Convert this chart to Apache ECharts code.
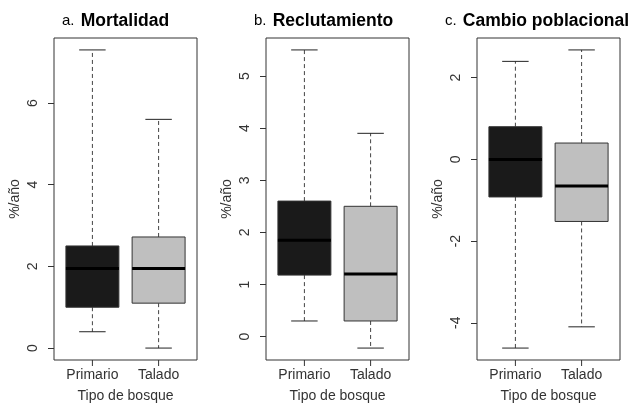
<!DOCTYPE html>
<html>
<head>
<meta charset="utf-8">
<script src="https://cdn.jsdelivr.net/npm/echarts@6/dist/echarts.min.js"></script>
<style>
html,body{margin:0;padding:0;background:#fff;}
#chart{width:637px;height:408px;}
</style>
</head>
<body>
<div id="chart"></div>
<script>
// ---- data ----
const categories = ['Primario', 'Talado'];
// [min, Q1, median, Q3, max] per category
const mortalidad = [[0.4, 1.0, 1.95, 2.5, 7.3], [0.0, 1.1, 1.95, 2.72, 5.6]];
const reclutamiento = [[0.3, 1.18, 1.85, 2.6, 5.5], [-0.22, 0.3, 1.2, 2.5, 3.9]];
const cambio = [[-4.62, -0.92, 0.0, 0.8, 2.4], [-4.1, -1.52, -0.65, 0.4, 2.68]];
const ticksA = [0, 2, 4, 6];
const ticksB = [0, 1, 2, 3, 4, 5];
const ticksC = [-4, -2, 0, 2];
const panelLetters = ['a.', 'b.', 'c.'];
const panelTitles = ['Mortalidad', 'Reclutamiento', 'Cambio poblacional'];
const yName = '%/año';
const xName = 'Tipo de bosque';

// ---- styles / layout ----
const fills = ['#1a1a1a', '#bfbfbf'];
const gridLefts = [54, 266, 477];
const titleLefts = [62, 254, 445];
const textColor = '#333';
const FONT = '"Liberation Sans", Arial, sans-serif';
const TICK_LEN = 6;

const panels = [
  { data: mortalidad, ticks: ticksA },
  { data: reclutamiento, ticks: ticksB },
  { data: cambio, ticks: ticksC }
];

function rRange(arr) {
  let lo = Infinity, hi = -Infinity;
  arr.forEach(r => r.forEach(v => { lo = Math.min(lo, v); hi = Math.max(hi, v); }));
  const ext = (hi - lo) * 0.04;
  return [lo - ext, hi + ext];
}
const xMin = 0.5 - 0.04 * categories.length;
const xMax = categories.length + 0.5 + 0.04 * categories.length;

function renderBox(params, api) {
  const x = api.value(0);
  const vmin = api.value(1), q1 = api.value(2), med = api.value(3), q3 = api.value(4), vmax = api.value(5);
  const w = api.size([0.8, 0])[0];
  const cap = w / 2;
  const pMin = api.coord([x, vmin]);
  const pQ1 = api.coord([x, q1]);
  const pMed = api.coord([x, med]);
  const pQ3 = api.coord([x, q3]);
  const pMax = api.coord([x, vmax]);
  const cx = pMed[0];
  const bottom = params.coordSys.y + params.coordSys.height;
  const dashStyle = { stroke: '#444', lineWidth: 1, lineDash: [4, 3] };
  const solid = { stroke: '#222', lineWidth: 1 };
  return {
    type: 'group',
    children: [
      { type: 'line', shape: { x1: cx, y1: pQ3[1], x2: cx, y2: pMax[1] }, style: dashStyle },
      { type: 'line', shape: { x1: cx, y1: pQ1[1], x2: cx, y2: pMin[1] }, style: dashStyle },
      { type: 'line', shape: { x1: cx - cap / 2, y1: pMax[1], x2: cx + cap / 2, y2: pMax[1] }, style: solid },
      { type: 'line', shape: { x1: cx - cap / 2, y1: pMin[1], x2: cx + cap / 2, y2: pMin[1] }, style: solid },
      { type: 'rect', shape: { x: cx - w / 2, y: pQ3[1], width: w, height: pQ1[1] - pQ3[1] },
        style: { fill: fills[params.dataIndex], stroke: '#333', lineWidth: 1 } },
      { type: 'line', shape: { x1: cx - w / 2, y1: pMed[1], x2: cx + w / 2, y2: pMed[1] },
        style: { stroke: '#000', lineWidth: 3 } },
      // category tick mark below the frame
      { type: 'line', shape: { x1: cx, y1: bottom, x2: cx, y2: bottom + TICK_LEN }, style: { stroke: '#333', lineWidth: 1 } }
    ]
  };
}

const option = {
  animation: false,
  backgroundColor: '#fff',
  textStyle: { fontFamily: FONT },
  title: panels.map((p, i) => ({
    text: '{n|' + panelLetters[i] + ' }{b|' + panelTitles[i] + '}',
    left: titleLefts[i],
    top: 7,
    padding: [5, 0],
    textStyle: {
      rich: {
        n: { fontFamily: FONT, fontSize: 15, color: '#000', fontWeight: 'normal', padding: [0, 2, 0, 0] },
        b: { fontFamily: FONT, fontSize: 17.5, color: '#000', fontWeight: 'bold' }
      }
    }
  })),
  grid: panels.map((p, i) => ({
    left: gridLefts[i], width: 143, top: 38, height: 324.5,
    show: true, borderColor: '#333', borderWidth: 1, backgroundColor: 'transparent'
  })),
  xAxis: panels.map((p, i) => ({
    type: 'value', gridIndex: i, min: xMin, max: xMax,
    axisLine: { show: false, onZero: false },
    splitLine: { show: false },
    axisTick: { show: false },
    axisLabel: { customValues: [1, 2], formatter: v => categories[Math.round(v) - 1],
      margin: 8, fontSize: 14, color: textColor, fontFamily: FONT },
    name: xName, nameLocation: 'middle', nameGap: 29,
    nameTextStyle: { fontSize: 14, color: textColor, fontFamily: FONT }
  })),
  yAxis: panels.map((p, i) => {
    const r = rRange(p.data);
    return {
      type: 'value', gridIndex: i, min: r[0], max: r[1],
      axisLine: { show: false, onZero: false },
      splitLine: { show: false },
      axisTick: { show: true, customValues: p.ticks, length: TICK_LEN, lineStyle: { color: '#333' } },
      axisLabel: { customValues: p.ticks, rotate: 90, margin: 14, fontSize: 14, color: textColor, fontFamily: FONT },
      name: yName, nameLocation: 'middle', nameRotate: 90, nameGap: 32,
      nameTextStyle: { fontSize: 14, color: textColor, fontFamily: FONT }
    };
  }),
  series: panels.map((p, i) => ({
    type: 'custom',
    xAxisIndex: i, yAxisIndex: i,
    clip: false,
    renderItem: renderBox,
    encode: { x: 0, y: [1, 2, 3, 4, 5] },
    data: categories.map((c, k) => [k + 1].concat(p.data[k]))
  }))
};

const chart = echarts.init(document.getElementById('chart'), null, { renderer: 'canvas' });
chart.setOption(option);
</script>
</body>
</html>
